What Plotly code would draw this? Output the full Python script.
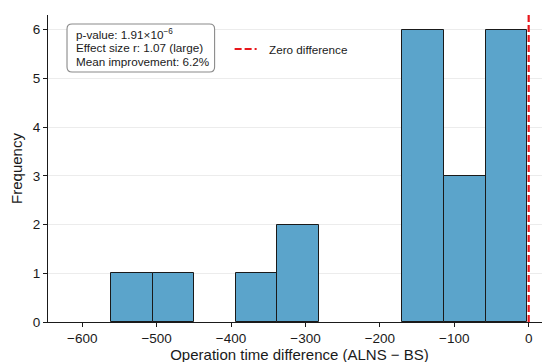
import plotly.graph_objects as go

# ---- data ----
bin_edges = [-561.3, -505.4, -449.4, -393.5, -337.6, -281.7, -225.7, -169.8, -113.9, -58.0, -2.0]
counts = [1, 1, 0, 1, 2, 0, 0, 6, 3, 6]
x_ticks = [-600, -500, -400, -300, -200, -100, 0]
x_tick_labels = ["\u2212600", "\u2212500", "\u2212400", "\u2212300", "\u2212200", "\u2212100", "0"]
y_ticks = [0, 1, 2, 3, 4, 5, 6]
stats_lines = [
    "p-value: 1.91\u00d710<sup>\u22126</sup>",
    "Effect size r: 1.07 (large)",
    "Mean improvement: 6.2%",
]
zero_label = "Zero difference"

centers = [(a + b) / 2 for a, b in zip(bin_edges[:-1], bin_edges[1:])]
widths = [b - a for a, b in zip(bin_edges[:-1], bin_edges[1:])]
edge_widths = [1 if c > 0 else 0 for c in counts]

W, H = 550, 362
L, R, T, B = 40, 7.3, 7, 48
pw, ph = W - L - R, H - T - B


def px(x):
    return (x - L) / pw


def py(y):
    return (H - B - y) / ph


FONT = "Liberation Sans, Arial, Helvetica, sans-serif"

fig = go.Figure()
fig.add_trace(go.Bar(
    x=centers, y=counts, width=widths,
    marker=dict(color="#5BA4CB", line=dict(color="#1a1a1a", width=edge_widths)),
    showlegend=False, hoverinfo="x+y",
))

# zero-difference line
fig.add_shape(type="line", xref="x", yref="y domain", x0=0, x1=0, y0=0, y1=1,
              line=dict(color="#E8161B", width=2.2, dash="7px,3px"), layer="above")

# manual legend
ly = py(41)
fig.add_shape(type="line", xref="paper", yref="paper", x0=px(226.5), x1=px(248.5), y0=ly, y1=ly,
              line=dict(color="#E8161B", width=2.2, dash="7px,3px"))
fig.add_annotation(xref="paper", yref="paper", x=px(258.5), y=ly, text=zero_label,
                   showarrow=False, xanchor="left", yanchor="middle",
                   font=dict(family=FONT, size=11.7, color="#1a1a1a"))

# rounded stats box
bx0, bx1, by0, by1, r = 59, 206.5, 16, 64, 5
path = (f"M {px(bx0 + r)},{py(by0)} L {px(bx1 - r)},{py(by0)} "
        f"Q {px(bx1)},{py(by0)} {px(bx1)},{py(by0 + r)} "
        f"L {px(bx1)},{py(by1 - r)} Q {px(bx1)},{py(by1)} {px(bx1 - r)},{py(by1)} "
        f"L {px(bx0 + r)},{py(by1)} Q {px(bx0)},{py(by1)} {px(bx0)},{py(by1 - r)} "
        f"L {px(bx0)},{py(by0 + r)} Q {px(bx0)},{py(by0)} {px(bx0 + r)},{py(by0)} Z")
fig.add_shape(type="path", xref="paper", yref="paper", path=path,
              line=dict(color="#8a8a8a", width=1.1), fillcolor="white", layer="above")
for i, line in enumerate(stats_lines):
    fig.add_annotation(xref="paper", yref="paper", x=px(65.5), y=py(25.5 + 13.8 * i), text=line,
                       showarrow=False, xanchor="left", yanchor="middle",
                       font=dict(family=FONT, size=11.7, color="#1a1a1a"))

fig.update_layout(
    width=W, height=H,
    margin=dict(l=L, r=R, t=T, b=B, pad=0),
    paper_bgcolor="white", plot_bgcolor="white",
    font=dict(family=FONT, color="#1a1a1a"),
    bargap=0,
    xaxis=dict(
        range=[-646, 30], tickvals=x_ticks, ticktext=x_tick_labels,
        showline=True, linecolor="#1a1a1a", linewidth=1.2,
        ticks="outside", ticklen=4, tickwidth=1.1, tickcolor="#1a1a1a",
        showgrid=False, zeroline=False, automargin=False,
        tickfont=dict(size=13.5),
        title=dict(text="Operation time difference (ALNS \u2212 BS)", font=dict(size=15), standoff=4),
    ),
    yaxis=dict(
        range=[0, 6.3], tickvals=y_ticks,
        showline=True, linecolor="#1a1a1a", linewidth=1.2,
        ticks="outside", ticklen=4, tickwidth=1.1, tickcolor="#1a1a1a",
        showgrid=True, gridcolor="#ececec", gridwidth=1, zeroline=False, automargin=False,
        tickfont=dict(size=13.5),
        title=dict(text="Frequency", font=dict(size=15), standoff=6),
    ),
)

fig.write_html("out.html")
